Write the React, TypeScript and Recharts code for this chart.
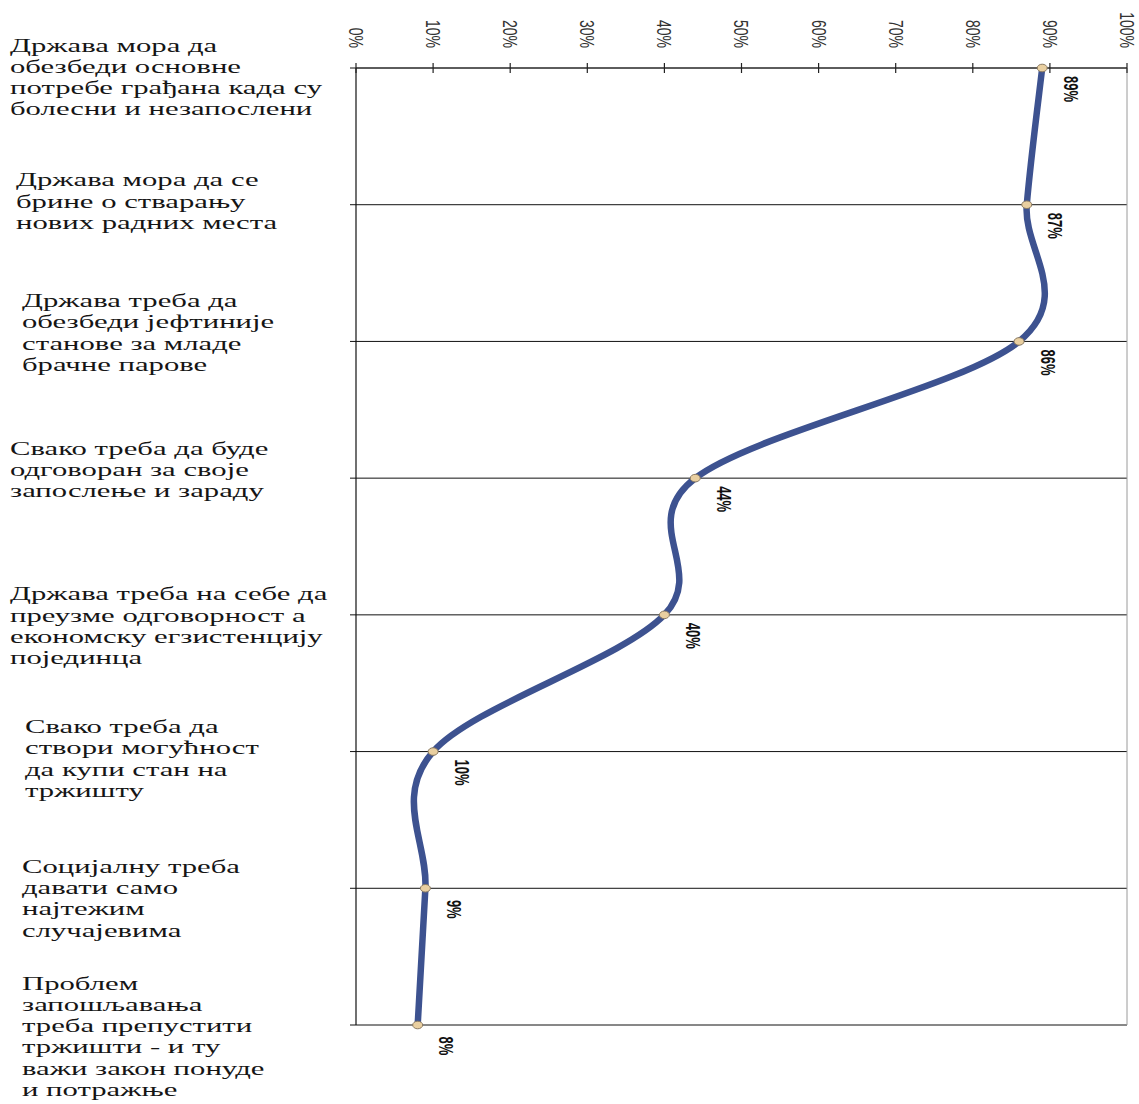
import { LineChart, Line, XAxis, YAxis, CartesianGrid, ReferenceLine, LabelList } from 'recharts';

// Statements, one per row (line breaks as they are set in the row labels)
const statements = [
  'Држава мора да\nобезбеди основне\nпотребе грађана када су\nболесни и незапослени',
  'Држава мора да се\nбрине о стварању\nнових радних места',
  'Држава треба да\nобезбеди јефтиније\nстанове за младе\nбрачне парове',
  'Свако треба да буде\nодговоран за своје\nзапослење и зараду',
  'Држава треба на себе да\nпреузме одговорност а\nекономску егзистенцију\nпојединца',
  'Свако треба да\nствори могућност\nда купи стан на\nтржишту',
  'Социјалну треба\nдавати само\nнајтежим\nслучајевима',
  'Проблем\nзапошљавања\nтреба препустити\nтржишти - и ту\nважи закон понуде\nи потражње',
];

// Share of respondents who agree, in percent
const agreeShare = [89, 87, 86, 44, 40, 10, 9, 8];

const percentTicks = [0, 10, 20, 30, 40, 50, 60, 70, 80, 90, 100];

// placement of each row label block: left edge, and first line relative to the row
const labelIndent = [10, 16, 22, 10, 10, 25, 22, 22];
const labelFirstLine = [-23, -25, -41, -30, -21, -25, -22, -42];

const data = statements.map((s, i) => ({ statement: s, share: agreeShare[i] }));

const SX = 1.5; // the whole sheet is stretched sideways
const LINE_H = 21.3;

// Smoothed line like the spreadsheet's: cubic Bezier through every point,
// control points taken from the neighbours (Catmull-Rom).
function smoothCurve(context: any) {
  let pts: [number, number][] = [];
  return {
    areaStart() {},
    areaEnd() {},
    lineStart() {
      pts = [];
    },
    lineEnd() {
      if (!pts.length) return;
      context.moveTo(pts[0][0], pts[0][1]);
      for (let i = 0; i < pts.length - 1; i++) {
        const p0 = pts[Math.max(0, i - 1)];
        const p1 = pts[i];
        const p2 = pts[i + 1];
        const p3 = pts[Math.min(pts.length - 1, i + 2)];
        context.bezierCurveTo(
          p1[0] + (p2[0] - p0[0]) / 6,
          p1[1] + (p2[1] - p0[1]) / 6,
          p2[0] - (p3[0] - p1[0]) / 6,
          p2[1] - (p3[1] - p1[1]) / 6,
          p2[0],
          p2[1],
        );
      }
    },
    point(x: number, y: number) {
      pts.push([+x, +y]);
    },
  };
}

function StatementTick(props: any) {
  const { y, payload, index } = props;
  const lines: string[] = String(payload.value).split('\n');
  const x0 = labelIndent[index] ?? 10;
  const top = y + (labelFirstLine[index] ?? -25);
  return (
    <g transform={`translate(${x0},0) scale(1.66,1)`}>
      <text
        fontFamily="'Liberation Serif', 'Times New Roman', serif"
        fontSize={18.5}
        fill="#151515"
        textAnchor="start"
        dominantBaseline="central"
      >
        {lines.map((l, i) => (
          <tspan key={i} x={0} y={top + i * LINE_H}>
            {l}
          </tspan>
        ))}
      </text>
    </g>
  );
}

function PercentTick(props: any) {
  const { x, y, payload } = props;
  return (
    <g>
      <line x1={x} x2={x} y1={y} y2={y + 10} stroke="#222" strokeWidth={1.2} />
      <text
        transform={`translate(${x},${y - 15}) scale(${SX},1) rotate(90)`}
        textAnchor="end"
        dominantBaseline="central"
        fontFamily="'Liberation Sans', Arial, sans-serif"
        fontSize={14}
        fill="#333"
      >
        {`${payload.value}%`}
      </text>
    </g>
  );
}

function ShareLabel(props: any) {
  const { x, y, value } = props;
  return (
    <text
      transform={`translate(${x + 28},${y + 21}) scale(${SX},1) rotate(90)`}
      textAnchor="middle"
      dominantBaseline="central"
      fontFamily="'Liberation Sans', Arial, sans-serif"
      fontWeight="bold"
      fontSize={13}
      fill="#111"
    >
      {`${value}%`}
    </text>
  );
}

function PointDot(props: any) {
  const { cx, cy, index } = props;
  return <ellipse key={index} cx={cx} cy={cy} rx={5} ry={3.8} fill="#E9CFA0" stroke="#8A7A62" strokeWidth={1} />;
}

export default function App() {
  return (
    <div style={{ position: 'absolute', left: 0, top: 0, background: '#fff' }}>
      <LineChart
        layout="vertical"
        width={1139}
        height={1104}
        data={data}
        margin={{ top: 0, right: 12, bottom: 79, left: 0 }}
      >
        <CartesianGrid horizontal vertical={false} stroke="#111" strokeWidth={1} />
        <XAxis
          type="number"
          orientation="top"
          domain={[0, 100]}
          ticks={percentTicks}
          interval={0}
          height={68}
          axisLine={{ stroke: '#333', strokeWidth: 1.2 }}
          tickLine={false}
          tickSize={5}
          tickMargin={0}
          tick={<PercentTick />}
        />
        <YAxis
          type="category"
          dataKey="statement"
          scale="point"
          padding={{ top: 0, bottom: 0 }}
          width={356}
          interval={0}
          axisLine={{ stroke: '#111', strokeWidth: 1.2 }}
          tickLine={{ stroke: '#111' }}
          tickSize={6}
          tick={<StatementTick />}
        />
        <ReferenceLine x={100} stroke="#9a9a9a" strokeWidth={1} />
        <Line
          type={smoothCurve as any}
          dataKey="share"
          stroke="#3D5290"
          strokeWidth={6.5}
          dot={<PointDot />}
          activeDot={false}
          isAnimationActive={false}
        >
          <LabelList dataKey="share" content={<ShareLabel />} />
        </Line>
      </LineChart>
    </div>
  );
}
